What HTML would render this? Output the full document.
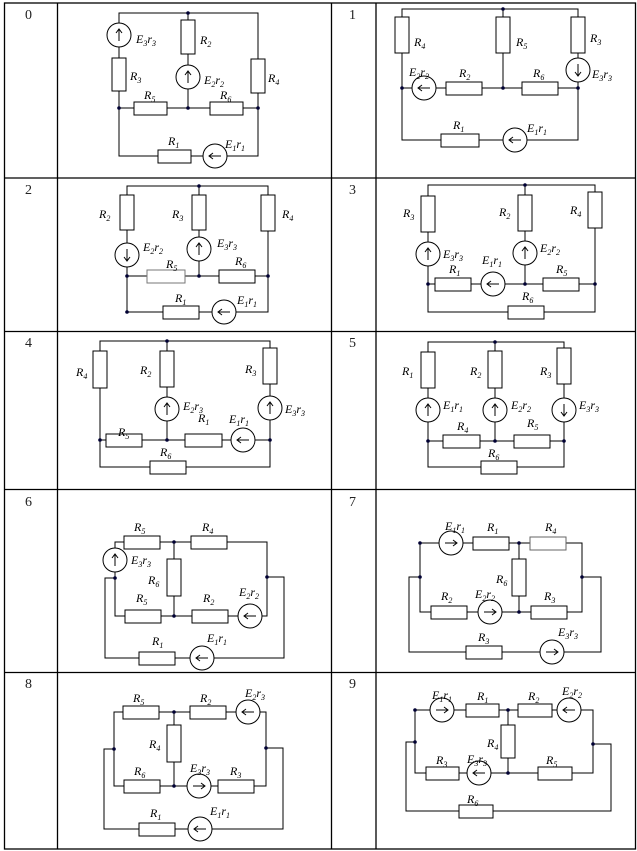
<!DOCTYPE html>
<html><head><meta charset="utf-8"><style>
html,body{margin:0;padding:0;background:#fff}
svg{display:block}
.w{fill:none;stroke:#000;stroke-width:1}
.c rect,.c circle{fill:#fff;stroke:#000;stroke-width:1}
.n{fill:#003}
.l{font-family:"Liberation Serif",serif;font-style:italic;font-size:12px;fill:#000}
.s{font-size:8px}
.num{font-family:"Liberation Serif",serif;font-size:14px;fill:#222}
</style></head><body>
<svg width="637" height="851" viewBox="0 0 637 851" xmlns="http://www.w3.org/2000/svg">
<defs><path id="a" d="M0 6V-6M-3 -2L0 -6L3 -2" fill="none" stroke="#000" stroke-width="1"/></defs>
<g fill="none" stroke="#000" stroke-width="1.3">
<rect x="4.5" y="3" width="631" height="846"/>
<line x1="57.5" y1="3" x2="57.5" y2="849"/><line x1="331.5" y1="3" x2="331.5" y2="849"/><line x1="376" y1="3" x2="376" y2="849"/>
<line x1="4.5" y1="178" x2="635.5" y2="178"/><line x1="4.5" y1="331.5" x2="635.5" y2="331.5"/><line x1="4.5" y1="489.5" x2="635.5" y2="489.5"/><line x1="4.5" y1="672.5" x2="635.5" y2="672.5"/>
</g>
<g class="num"><text x="25" y="19">0</text><text x="349" y="19">1</text><text x="25" y="194">2</text><text x="349" y="194">3</text><text x="25" y="347">4</text><text x="349" y="347">5</text><text x="25" y="506">6</text><text x="349" y="506">7</text><text x="25" y="688">8</text><text x="349" y="688">9</text></g>

<!-- cell 0 -->
<path class="w" d="M119 13H258V156H119Z M188 13V108 M119 108H258"/>
<g class="c"><circle cx="119" cy="35" r="12"/><rect x="112" y="58" width="14" height="33"/><rect x="181" y="20" width="14" height="34"/><circle cx="188" cy="77" r="12"/><rect x="251" y="59" width="14" height="34"/><rect x="134" y="102" width="33" height="13"/><rect x="210" y="102" width="33" height="13"/><rect x="158" y="150" width="33" height="13"/><circle cx="215" cy="156" r="12"/></g>
<use href="#a" transform="translate(119,35)"/><use href="#a" transform="translate(188,77)"/><use href="#a" transform="translate(215,156) rotate(-90)"/>
<g class="n"><circle cx="188" cy="13" r="1.8"/><circle cx="119" cy="108" r="1.8"/><circle cx="188" cy="108" r="1.8"/><circle cx="258" cy="108" r="1.8"/></g>
<g class="l"><text x="136" y="43">E<tspan class="s" dy="3">3</tspan><tspan dy="-3">r</tspan><tspan class="s" dy="3">3</tspan></text>
<text x="200" y="44">R<tspan class="s" dy="3">2</tspan></text><text x="130" y="80">R<tspan class="s" dy="3">3</tspan></text>
<text x="204" y="84">E<tspan class="s" dy="3">2</tspan><tspan dy="-3">r</tspan><tspan class="s" dy="3">2</tspan></text>
<text x="268" y="82">R<tspan class="s" dy="3">4</tspan></text><text x="144" y="99">R<tspan class="s" dy="3">5</tspan></text><text x="220" y="99">R<tspan class="s" dy="3">6</tspan></text>
<text x="168" y="145">R<tspan class="s" dy="3">1</tspan></text><text x="225" y="148">E<tspan class="s" dy="3">1</tspan><tspan dy="-3">r</tspan><tspan class="s" dy="3">1</tspan></text></g>

<!-- cell 1 -->
<path class="w" d="M402 9H578V140H402Z M503 9V88 M402 88H578"/>
<g class="c"><rect x="395" y="17" width="14" height="36"/><rect x="496" y="17" width="14" height="36"/><rect x="571" y="17" width="14" height="36"/><circle cx="578" cy="70" r="12"/><circle cx="424" cy="88" r="12"/><rect x="446" y="82" width="36" height="13"/><rect x="522" y="82" width="36" height="13"/><rect x="441" y="134" width="38" height="13"/><circle cx="515" cy="140" r="12"/></g>
<use href="#a" transform="translate(578,70) rotate(180)"/><use href="#a" transform="translate(424,88) rotate(-90)"/><use href="#a" transform="translate(515,140) rotate(-90)"/>
<g class="n"><circle cx="503" cy="9" r="1.8"/><circle cx="402" cy="88" r="1.8"/><circle cx="503" cy="88" r="1.8"/><circle cx="578" cy="88" r="1.8"/></g>
<g class="l"><text x="414" y="46">R<tspan class="s" dy="3">4</tspan></text><text x="516" y="46">R<tspan class="s" dy="3">5</tspan></text><text x="590" y="42">R<tspan class="s" dy="3">3</tspan></text>
<text x="409" y="76">E<tspan class="s" dy="3">2</tspan><tspan dy="-3">r</tspan><tspan class="s" dy="3">2</tspan></text>
<text x="459" y="77">R<tspan class="s" dy="3">2</tspan></text><text x="533" y="77">R<tspan class="s" dy="3">6</tspan></text>
<text x="592" y="78">E<tspan class="s" dy="3">3</tspan><tspan dy="-3">r</tspan><tspan class="s" dy="3">3</tspan></text>
<text x="453" y="129">R<tspan class="s" dy="3">1</tspan></text><text x="527" y="132">E<tspan class="s" dy="3">1</tspan><tspan dy="-3">r</tspan><tspan class="s" dy="3">1</tspan></text></g>

<!-- cell 2 -->
<path class="w" d="M127 186H268V312H127Z M199 186V276 M127 276H268"/>
<g class="c"><rect x="120" y="195" width="14" height="35"/><circle cx="127" cy="255" r="12"/><rect x="192" y="195" width="14" height="35"/><circle cx="199" cy="249" r="12"/><rect x="261" y="195" width="14" height="36"/><rect x="147" y="270" width="38" height="13" style="stroke:#777"/><rect x="219" y="270" width="36" height="13"/><rect x="163" y="306" width="36" height="13"/><circle cx="224" cy="312" r="12"/></g>
<use href="#a" transform="translate(127,255) rotate(180)"/><use href="#a" transform="translate(199,249)"/><use href="#a" transform="translate(224,312) rotate(-90)"/>
<g class="n"><circle cx="199" cy="186" r="1.8"/><circle cx="127" cy="276" r="1.8"/><circle cx="199" cy="276" r="1.8"/><circle cx="268" cy="276" r="1.8"/><circle cx="127" cy="312" r="1.8"/></g>
<g class="l"><text x="99" y="218">R<tspan class="s" dy="3">2</tspan></text><text x="172" y="218">R<tspan class="s" dy="3">3</tspan></text><text x="282" y="218">R<tspan class="s" dy="3">4</tspan></text>
<text x="143" y="251">E<tspan class="s" dy="3">2</tspan><tspan dy="-3">r</tspan><tspan class="s" dy="3">2</tspan></text>
<text x="217" y="247">E<tspan class="s" dy="3">3</tspan><tspan dy="-3">r</tspan><tspan class="s" dy="3">3</tspan></text>
<text x="166" y="268">R<tspan class="s" dy="3">5</tspan></text><text x="235" y="265">R<tspan class="s" dy="3">6</tspan></text>
<text x="175" y="302">R<tspan class="s" dy="3">1</tspan></text><text x="237" y="304">E<tspan class="s" dy="3">1</tspan><tspan dy="-3">r</tspan><tspan class="s" dy="3">1</tspan></text></g>

<!-- cell 3 -->
<path class="w" d="M428 185H595V312H428Z M525 185V284 M428 284H595"/>
<g class="c"><rect x="421" y="196" width="14" height="36"/><circle cx="428" cy="254" r="12"/><rect x="518" y="195" width="14" height="36"/><circle cx="525" cy="253" r="12"/><rect x="588" y="192" width="14" height="36"/><rect x="435" y="278" width="36" height="13"/><circle cx="493" cy="284" r="12"/><rect x="543" y="278" width="36" height="13"/><rect x="508" y="306" width="36" height="13"/></g>
<use href="#a" transform="translate(428,254)"/><use href="#a" transform="translate(525,253)"/><use href="#a" transform="translate(493,284) rotate(-90)"/>
<g class="n"><circle cx="525" cy="185" r="1.8"/><circle cx="428" cy="284" r="1.8"/><circle cx="525" cy="284" r="1.8"/><circle cx="595" cy="284" r="1.8"/></g>
<g class="l"><text x="403" y="217">R<tspan class="s" dy="3">3</tspan></text><text x="499" y="216">R<tspan class="s" dy="3">2</tspan></text><text x="570" y="214">R<tspan class="s" dy="3">4</tspan></text>
<text x="443" y="258">E<tspan class="s" dy="3">3</tspan><tspan dy="-3">r</tspan><tspan class="s" dy="3">3</tspan></text>
<text x="540" y="252">E<tspan class="s" dy="3">2</tspan><tspan dy="-3">r</tspan><tspan class="s" dy="3">2</tspan></text>
<text x="482" y="264">E<tspan class="s" dy="3">1</tspan><tspan dy="-3">r</tspan><tspan class="s" dy="3">1</tspan></text>
<text x="449" y="273">R<tspan class="s" dy="3">1</tspan></text><text x="556" y="273">R<tspan class="s" dy="3">5</tspan></text><text x="522" y="300">R<tspan class="s" dy="3">6</tspan></text></g>

<!-- cell 4 -->
<path class="w" d="M100 341H270V467H100Z M167 341V440 M100 440H270"/>
<g class="c"><rect x="93" y="351" width="14" height="37"/><rect x="160" y="351" width="14" height="36"/><circle cx="167" cy="409" r="12"/><rect x="263" y="348" width="14" height="36"/><circle cx="270" cy="408" r="12"/><rect x="106" y="434" width="36" height="13"/><rect x="185" y="434" width="37" height="13"/><circle cx="243" cy="440" r="12"/><rect x="150" y="461" width="36" height="13"/></g>
<use href="#a" transform="translate(167,409)"/><use href="#a" transform="translate(270,408)"/><use href="#a" transform="translate(243,440) rotate(-90)"/>
<g class="n"><circle cx="167" cy="341" r="1.8"/><circle cx="100" cy="440" r="1.8"/><circle cx="167" cy="440" r="1.8"/><circle cx="270" cy="440" r="1.8"/></g>
<g class="l"><text x="76" y="376">R<tspan class="s" dy="3">4</tspan></text><text x="140" y="374">R<tspan class="s" dy="3">2</tspan></text><text x="245" y="373">R<tspan class="s" dy="3">3</tspan></text>
<text x="183" y="410">E<tspan class="s" dy="3">2</tspan><tspan dy="-3">r</tspan><tspan class="s" dy="3">3</tspan></text>
<text x="285" y="413">E<tspan class="s" dy="3">3</tspan><tspan dy="-3">r</tspan><tspan class="s" dy="3">3</tspan></text>
<text x="229" y="423">E<tspan class="s" dy="3">1</tspan><tspan dy="-3">r</tspan><tspan class="s" dy="3">1</tspan></text>
<text x="198" y="422">R<tspan class="s" dy="3">1</tspan></text><text x="118" y="436">R<tspan class="s" dy="3">5</tspan></text><text x="160" y="456">R<tspan class="s" dy="3">6</tspan></text></g>

<!-- cell 5 -->
<path class="w" d="M428 342H564V467H428Z M495 342V441 M428 441H564"/>
<g class="c"><rect x="421" y="352" width="14" height="36"/><circle cx="428" cy="410" r="12"/><rect x="488" y="351" width="14" height="37"/><circle cx="495" cy="410" r="12"/><rect x="557" y="348" width="14" height="36"/><circle cx="564" cy="410" r="12"/><rect x="443" y="435" width="37" height="13"/><rect x="514" y="435" width="36" height="13"/><rect x="481" y="461" width="36" height="13"/></g>
<use href="#a" transform="translate(428,410)"/><use href="#a" transform="translate(495,410)"/><use href="#a" transform="translate(564,410) rotate(180)"/>
<g class="n"><circle cx="495" cy="342" r="1.8"/><circle cx="428" cy="441" r="1.8"/><circle cx="495" cy="441" r="1.8"/><circle cx="564" cy="441" r="1.8"/></g>
<g class="l"><text x="402" y="375">R<tspan class="s" dy="3">1</tspan></text><text x="470" y="375">R<tspan class="s" dy="3">2</tspan></text><text x="540" y="375">R<tspan class="s" dy="3">3</tspan></text>
<text x="443" y="409">E<tspan class="s" dy="3">1</tspan><tspan dy="-3">r</tspan><tspan class="s" dy="3">1</tspan></text>
<text x="511" y="409">E<tspan class="s" dy="3">2</tspan><tspan dy="-3">r</tspan><tspan class="s" dy="3">2</tspan></text>
<text x="579" y="409">E<tspan class="s" dy="3">3</tspan><tspan dy="-3">r</tspan><tspan class="s" dy="3">3</tspan></text>
<text x="457" y="430">R<tspan class="s" dy="3">4</tspan></text><text x="527" y="427">R<tspan class="s" dy="3">5</tspan></text><text x="488" y="457">R<tspan class="s" dy="3">6</tspan></text></g>

<!-- cell 6 -->
<path class="w" d="M115 542H267V616H115Z M174 542V616 M115 578H105V658H284V577H267"/>
<g class="c"><circle cx="115" cy="560" r="12"/><rect x="124" y="536" width="36" height="13"/><rect x="191" y="536" width="36" height="13"/><rect x="167" y="559" width="14" height="37"/><rect x="125" y="610" width="36" height="13"/><rect x="192" y="610" width="36" height="13"/><circle cx="250" cy="616" r="12"/><rect x="139" y="652" width="36" height="13"/><circle cx="202" cy="658" r="12"/></g>
<use href="#a" transform="translate(115,560)"/><use href="#a" transform="translate(250,616) rotate(-90)"/><use href="#a" transform="translate(202,658) rotate(-90)"/>
<g class="n"><circle cx="174" cy="542" r="1.8"/><circle cx="174" cy="616" r="1.8"/><circle cx="115" cy="578" r="1.8"/><circle cx="267" cy="577" r="1.8"/></g>
<g class="l"><text x="134" y="531">R<tspan class="s" dy="3">5</tspan></text><text x="202" y="531">R<tspan class="s" dy="3">4</tspan></text>
<text x="131" y="564">E<tspan class="s" dy="3">3</tspan><tspan dy="-3">r</tspan><tspan class="s" dy="3">3</tspan></text>
<text x="148" y="584">R<tspan class="s" dy="3">6</tspan></text><text x="136" y="602">R<tspan class="s" dy="3">5</tspan></text><text x="203" y="602">R<tspan class="s" dy="3">2</tspan></text>
<text x="239" y="596">E<tspan class="s" dy="3">2</tspan><tspan dy="-3">r</tspan><tspan class="s" dy="3">2</tspan></text>
<text x="152" y="645">R<tspan class="s" dy="3">1</tspan></text><text x="207" y="642">E<tspan class="s" dy="3">1</tspan><tspan dy="-3">r</tspan><tspan class="s" dy="3">1</tspan></text></g>

<!-- cell 7 -->
<path class="w" d="M420 543H582V612H420Z M519 543V612 M420 577H409V652H601V577H582"/>
<g class="c"><circle cx="451" cy="543" r="12"/><rect x="473" y="537" width="36" height="13"/><rect x="530" y="537" width="36" height="13" style="stroke:#666"/><rect x="512" y="559" width="14" height="37"/><rect x="431" y="606" width="36" height="13"/><circle cx="490" cy="612" r="12"/><rect x="531" y="606" width="36" height="13"/><rect x="466" y="646" width="36" height="13"/><circle cx="552" cy="652" r="12"/></g>
<use href="#a" transform="translate(451,543) rotate(90)"/><use href="#a" transform="translate(490,612) rotate(90)"/><use href="#a" transform="translate(552,652) rotate(90)"/>
<g class="n"><circle cx="420" cy="543" r="1.8"/><circle cx="519" cy="543" r="1.8"/><circle cx="420" cy="577" r="1.8"/><circle cx="582" cy="577" r="1.8"/><circle cx="519" cy="612" r="1.8"/></g>
<g class="l"><text x="445" y="530">E<tspan class="s" dy="3">1</tspan><tspan dy="-3">r</tspan><tspan class="s" dy="3">1</tspan></text>
<text x="487" y="531">R<tspan class="s" dy="3">1</tspan></text><text x="545" y="531">R<tspan class="s" dy="3">4</tspan></text><text x="496" y="583">R<tspan class="s" dy="3">6</tspan></text>
<text x="441" y="600">R<tspan class="s" dy="3">2</tspan></text><text x="475" y="598">E<tspan class="s" dy="3">2</tspan><tspan dy="-3">r</tspan><tspan class="s" dy="3">2</tspan></text>
<text x="544" y="600">R<tspan class="s" dy="3">3</tspan></text><text x="478" y="641">R<tspan class="s" dy="3">3</tspan></text>
<text x="558" y="636">E<tspan class="s" dy="3">3</tspan><tspan dy="-3">r</tspan><tspan class="s" dy="3">3</tspan></text></g>

<!-- cell 8 -->
<path class="w" d="M114 712H266V786H114Z M174 712V786 M114 749H104V829H283V748H266"/>
<g class="c"><rect x="123" y="706" width="36" height="13"/><rect x="190" y="706" width="36" height="13"/><circle cx="248" cy="712" r="12"/><rect x="167" y="725" width="14" height="37"/><rect x="124" y="780" width="36" height="13"/><circle cx="199" cy="786" r="12"/><rect x="218" y="780" width="36" height="13"/><rect x="139" y="823" width="36" height="13"/><circle cx="200" cy="829" r="12"/></g>
<use href="#a" transform="translate(248,712) rotate(-90)"/><use href="#a" transform="translate(199,786) rotate(90)"/><use href="#a" transform="translate(200,829) rotate(-90)"/>
<g class="n"><circle cx="174" cy="712" r="1.8"/><circle cx="174" cy="786" r="1.8"/><circle cx="114" cy="749" r="1.8"/><circle cx="266" cy="748" r="1.8"/></g>
<g class="l"><text x="133" y="702">R<tspan class="s" dy="3">5</tspan></text><text x="200" y="702">R<tspan class="s" dy="3">2</tspan></text>
<text x="245" y="697">E<tspan class="s" dy="3">2</tspan><tspan dy="-3">r</tspan><tspan class="s" dy="3">3</tspan></text>
<text x="149" y="748">R<tspan class="s" dy="3">4</tspan></text><text x="134" y="775">R<tspan class="s" dy="3">6</tspan></text>
<text x="190" y="772">E<tspan class="s" dy="3">3</tspan><tspan dy="-3">r</tspan><tspan class="s" dy="3">3</tspan></text>
<text x="230" y="775">R<tspan class="s" dy="3">3</tspan></text><text x="150" y="817">R<tspan class="s" dy="3">1</tspan></text>
<text x="210" y="815">E<tspan class="s" dy="3">1</tspan><tspan dy="-3">r</tspan><tspan class="s" dy="3">1</tspan></text></g>

<!-- cell 9 -->
<path class="w" d="M415 710H593V773H415Z M508 710V773 M415 742H406V811H611V744H593"/>
<g class="c"><circle cx="442" cy="710" r="12"/><rect x="466" y="704" width="33" height="13"/><rect x="518" y="704" width="34" height="13"/><circle cx="569" cy="710" r="12"/><rect x="501" y="725" width="14" height="33"/><rect x="426" y="767" width="33" height="13"/><circle cx="479" cy="773" r="12"/><rect x="538" y="767" width="34" height="13"/><rect x="459" y="805" width="34" height="13"/></g>
<use href="#a" transform="translate(442,710) rotate(90)"/><use href="#a" transform="translate(569,710) rotate(-90)"/><use href="#a" transform="translate(479,773) rotate(-90)"/>
<g class="n"><circle cx="415" cy="710" r="1.8"/><circle cx="508" cy="710" r="1.8"/><circle cx="415" cy="742" r="1.8"/><circle cx="593" cy="744" r="1.8"/><circle cx="508" cy="773" r="1.8"/></g>
<g class="l"><text x="432" y="699">E<tspan class="s" dy="3">1</tspan><tspan dy="-3">r</tspan><tspan class="s" dy="3">1</tspan></text>
<text x="477" y="700">R<tspan class="s" dy="3">1</tspan></text><text x="528" y="700">R<tspan class="s" dy="3">2</tspan></text>
<text x="562" y="695">E<tspan class="s" dy="3">2</tspan><tspan dy="-3">r</tspan><tspan class="s" dy="3">2</tspan></text>
<text x="487" y="747">R<tspan class="s" dy="3">4</tspan></text><text x="436" y="764">R<tspan class="s" dy="3">3</tspan></text>
<text x="467" y="763">E<tspan class="s" dy="3">3</tspan><tspan dy="-3">r</tspan><tspan class="s" dy="3">3</tspan></text>
<text x="546" y="764">R<tspan class="s" dy="3">5</tspan></text><text x="467" y="803">R<tspan class="s" dy="3">6</tspan></text></g>
</svg>
</body></html>
